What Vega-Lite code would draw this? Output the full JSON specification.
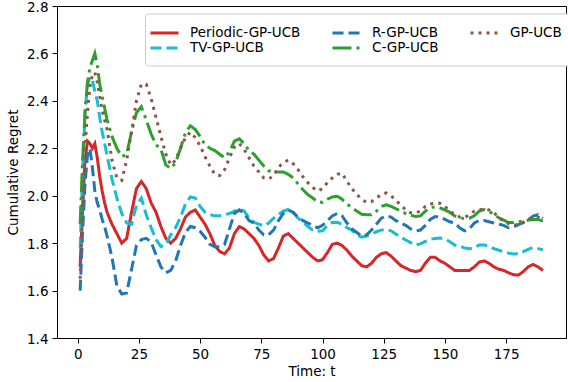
{
"$schema":"https://vega.github.io/schema/vega-lite/v6.json",
"width":509,"height":332,"autosize":{"type":"none"},
"padding":{"left":57,"top":6,"right":2,"bottom":44},
"background":"white",
"data":{"values":[
{"s":"Periodic-GP-UCB","t":1,"v":1.70},{"s":"Periodic-GP-UCB","t":2,"v":1.95},{"s":"Periodic-GP-UCB","t":3,"v":2.15},{"s":"Periodic-GP-UCB","t":4,"v":2.23},{"s":"Periodic-GP-UCB","t":5,"v":2.22},{"s":"Periodic-GP-UCB","t":6,"v":2.20},{"s":"Periodic-GP-UCB","t":7,"v":2.22},{"s":"Periodic-GP-UCB","t":8,"v":2.16},{"s":"Periodic-GP-UCB","t":9,"v":2.08},{"s":"Periodic-GP-UCB","t":10,"v":2.02},{"s":"Periodic-GP-UCB","t":11,"v":1.97},{"s":"Periodic-GP-UCB","t":12,"v":1.93},{"s":"Periodic-GP-UCB","t":14,"v":1.88},{"s":"Periodic-GP-UCB","t":16,"v":1.84},{"s":"Periodic-GP-UCB","t":18,"v":1.80},{"s":"Periodic-GP-UCB","t":20,"v":1.82},{"s":"Periodic-GP-UCB","t":22,"v":1.93},{"s":"Periodic-GP-UCB","t":24,"v":2.03},{"s":"Periodic-GP-UCB","t":26,"v":2.06},{"s":"Periodic-GP-UCB","t":28,"v":2.03},{"s":"Periodic-GP-UCB","t":30,"v":1.97},{"s":"Periodic-GP-UCB","t":32,"v":1.93},{"s":"Periodic-GP-UCB","t":34,"v":1.87},{"s":"Periodic-GP-UCB","t":36,"v":1.82},{"s":"Periodic-GP-UCB","t":38,"v":1.80},{"s":"Periodic-GP-UCB","t":40,"v":1.82},{"s":"Periodic-GP-UCB","t":42,"v":1.86},{"s":"Periodic-GP-UCB","t":44,"v":1.91},{"s":"Periodic-GP-UCB","t":46,"v":1.93},{"s":"Periodic-GP-UCB","t":48,"v":1.94},{"s":"Periodic-GP-UCB","t":50,"v":1.91},{"s":"Periodic-GP-UCB","t":52,"v":1.88},{"s":"Periodic-GP-UCB","t":54,"v":1.84},{"s":"Periodic-GP-UCB","t":56,"v":1.79},{"s":"Periodic-GP-UCB","t":58,"v":1.765},{"s":"Periodic-GP-UCB","t":60,"v":1.755},{"s":"Periodic-GP-UCB","t":62,"v":1.78},{"s":"Periodic-GP-UCB","t":64,"v":1.84},{"s":"Periodic-GP-UCB","t":66,"v":1.87},{"s":"Periodic-GP-UCB","t":68,"v":1.86},{"s":"Periodic-GP-UCB","t":70,"v":1.84},{"s":"Periodic-GP-UCB","t":72,"v":1.82},{"s":"Periodic-GP-UCB","t":74,"v":1.79},{"s":"Periodic-GP-UCB","t":76,"v":1.75},{"s":"Periodic-GP-UCB","t":78,"v":1.725},{"s":"Periodic-GP-UCB","t":80,"v":1.735},{"s":"Periodic-GP-UCB","t":82,"v":1.78},{"s":"Periodic-GP-UCB","t":84,"v":1.83},{"s":"Periodic-GP-UCB","t":86,"v":1.84},{"s":"Periodic-GP-UCB","t":88,"v":1.82},{"s":"Periodic-GP-UCB","t":90,"v":1.80},{"s":"Periodic-GP-UCB","t":92,"v":1.78},{"s":"Periodic-GP-UCB","t":94,"v":1.76},{"s":"Periodic-GP-UCB","t":96,"v":1.74},{"s":"Periodic-GP-UCB","t":98,"v":1.725},{"s":"Periodic-GP-UCB","t":100,"v":1.73},{"s":"Periodic-GP-UCB","t":102,"v":1.76},{"s":"Periodic-GP-UCB","t":104,"v":1.795},{"s":"Periodic-GP-UCB","t":106,"v":1.80},{"s":"Periodic-GP-UCB","t":108,"v":1.79},{"s":"Periodic-GP-UCB","t":110,"v":1.77},{"s":"Periodic-GP-UCB","t":112,"v":1.745},{"s":"Periodic-GP-UCB","t":114,"v":1.725},{"s":"Periodic-GP-UCB","t":116,"v":1.705},{"s":"Periodic-GP-UCB","t":118,"v":1.70},{"s":"Periodic-GP-UCB","t":120,"v":1.715},{"s":"Periodic-GP-UCB","t":122,"v":1.74},{"s":"Periodic-GP-UCB","t":124,"v":1.755},{"s":"Periodic-GP-UCB","t":126,"v":1.76},{"s":"Periodic-GP-UCB","t":128,"v":1.745},{"s":"Periodic-GP-UCB","t":130,"v":1.725},{"s":"Periodic-GP-UCB","t":132,"v":1.705},{"s":"Periodic-GP-UCB","t":134,"v":1.695},{"s":"Periodic-GP-UCB","t":136,"v":1.685},{"s":"Periodic-GP-UCB","t":138,"v":1.68},{"s":"Periodic-GP-UCB","t":140,"v":1.685},{"s":"Periodic-GP-UCB","t":142,"v":1.715},{"s":"Periodic-GP-UCB","t":144,"v":1.74},{"s":"Periodic-GP-UCB","t":146,"v":1.74},{"s":"Periodic-GP-UCB","t":148,"v":1.725},{"s":"Periodic-GP-UCB","t":150,"v":1.715},{"s":"Periodic-GP-UCB","t":152,"v":1.70},{"s":"Periodic-GP-UCB","t":154,"v":1.685},{"s":"Periodic-GP-UCB","t":156,"v":1.685},{"s":"Periodic-GP-UCB","t":158,"v":1.685},{"s":"Periodic-GP-UCB","t":160,"v":1.685},{"s":"Periodic-GP-UCB","t":162,"v":1.70},{"s":"Periodic-GP-UCB","t":164,"v":1.72},{"s":"Periodic-GP-UCB","t":166,"v":1.725},{"s":"Periodic-GP-UCB","t":168,"v":1.715},{"s":"Periodic-GP-UCB","t":170,"v":1.70},{"s":"Periodic-GP-UCB","t":172,"v":1.69},{"s":"Periodic-GP-UCB","t":174,"v":1.685},{"s":"Periodic-GP-UCB","t":176,"v":1.675},{"s":"Periodic-GP-UCB","t":178,"v":1.667},{"s":"Periodic-GP-UCB","t":180,"v":1.665},{"s":"Periodic-GP-UCB","t":182,"v":1.68},{"s":"Periodic-GP-UCB","t":184,"v":1.70},{"s":"Periodic-GP-UCB","t":186,"v":1.71},{"s":"Periodic-GP-UCB","t":188,"v":1.70},{"s":"Periodic-GP-UCB","t":190,"v":1.685},
{"s":"TV-GP-UCB","t":1,"v":1.78},{"s":"TV-GP-UCB","t":2,"v":2.10},{"s":"TV-GP-UCB","t":3,"v":2.35},{"s":"TV-GP-UCB","t":4,"v":2.47},{"s":"TV-GP-UCB","t":5,"v":2.50},{"s":"TV-GP-UCB","t":6,"v":2.49},{"s":"TV-GP-UCB","t":7,"v":2.44},{"s":"TV-GP-UCB","t":8,"v":2.40},{"s":"TV-GP-UCB","t":9,"v":2.33},{"s":"TV-GP-UCB","t":10,"v":2.27},{"s":"TV-GP-UCB","t":11,"v":2.22},{"s":"TV-GP-UCB","t":12,"v":2.17},{"s":"TV-GP-UCB","t":14,"v":2.07},{"s":"TV-GP-UCB","t":16,"v":1.99},{"s":"TV-GP-UCB","t":18,"v":1.925},{"s":"TV-GP-UCB","t":20,"v":1.885},{"s":"TV-GP-UCB","t":22,"v":1.88},{"s":"TV-GP-UCB","t":24,"v":1.96},{"s":"TV-GP-UCB","t":26,"v":1.99},{"s":"TV-GP-UCB","t":28,"v":1.92},{"s":"TV-GP-UCB","t":30,"v":1.865},{"s":"TV-GP-UCB","t":32,"v":1.815},{"s":"TV-GP-UCB","t":34,"v":1.785},{"s":"TV-GP-UCB","t":36,"v":1.795},{"s":"TV-GP-UCB","t":38,"v":1.835},{"s":"TV-GP-UCB","t":40,"v":1.865},{"s":"TV-GP-UCB","t":42,"v":1.91},{"s":"TV-GP-UCB","t":44,"v":1.965},{"s":"TV-GP-UCB","t":46,"v":1.995},{"s":"TV-GP-UCB","t":48,"v":1.99},{"s":"TV-GP-UCB","t":50,"v":1.955},{"s":"TV-GP-UCB","t":52,"v":1.93},{"s":"TV-GP-UCB","t":54,"v":1.92},{"s":"TV-GP-UCB","t":56,"v":1.915},{"s":"TV-GP-UCB","t":58,"v":1.915},{"s":"TV-GP-UCB","t":60,"v":1.92},{"s":"TV-GP-UCB","t":62,"v":1.925},{"s":"TV-GP-UCB","t":64,"v":1.935},{"s":"TV-GP-UCB","t":66,"v":1.942},{"s":"TV-GP-UCB","t":68,"v":1.935},{"s":"TV-GP-UCB","t":70,"v":1.905},{"s":"TV-GP-UCB","t":72,"v":1.888},{"s":"TV-GP-UCB","t":74,"v":1.88},{"s":"TV-GP-UCB","t":76,"v":1.873},{"s":"TV-GP-UCB","t":78,"v":1.885},{"s":"TV-GP-UCB","t":80,"v":1.905},{"s":"TV-GP-UCB","t":82,"v":1.92},{"s":"TV-GP-UCB","t":84,"v":1.935},{"s":"TV-GP-UCB","t":86,"v":1.942},{"s":"TV-GP-UCB","t":88,"v":1.93},{"s":"TV-GP-UCB","t":90,"v":1.905},{"s":"TV-GP-UCB","t":92,"v":1.89},{"s":"TV-GP-UCB","t":94,"v":1.87},{"s":"TV-GP-UCB","t":96,"v":1.855},{"s":"TV-GP-UCB","t":98,"v":1.85},{"s":"TV-GP-UCB","t":100,"v":1.852},{"s":"TV-GP-UCB","t":102,"v":1.875},{"s":"TV-GP-UCB","t":104,"v":1.887},{"s":"TV-GP-UCB","t":106,"v":1.888},{"s":"TV-GP-UCB","t":108,"v":1.88},{"s":"TV-GP-UCB","t":110,"v":1.865},{"s":"TV-GP-UCB","t":112,"v":1.855},{"s":"TV-GP-UCB","t":114,"v":1.835},{"s":"TV-GP-UCB","t":116,"v":1.825},{"s":"TV-GP-UCB","t":118,"v":1.83},{"s":"TV-GP-UCB","t":120,"v":1.838},{"s":"TV-GP-UCB","t":122,"v":1.848},{"s":"TV-GP-UCB","t":124,"v":1.855},{"s":"TV-GP-UCB","t":126,"v":1.858},{"s":"TV-GP-UCB","t":128,"v":1.852},{"s":"TV-GP-UCB","t":130,"v":1.838},{"s":"TV-GP-UCB","t":132,"v":1.826},{"s":"TV-GP-UCB","t":134,"v":1.813},{"s":"TV-GP-UCB","t":136,"v":1.802},{"s":"TV-GP-UCB","t":138,"v":1.792},{"s":"TV-GP-UCB","t":140,"v":1.797},{"s":"TV-GP-UCB","t":142,"v":1.807},{"s":"TV-GP-UCB","t":144,"v":1.816},{"s":"TV-GP-UCB","t":146,"v":1.82},{"s":"TV-GP-UCB","t":148,"v":1.822},{"s":"TV-GP-UCB","t":150,"v":1.818},{"s":"TV-GP-UCB","t":152,"v":1.806},{"s":"TV-GP-UCB","t":154,"v":1.792},{"s":"TV-GP-UCB","t":156,"v":1.787},{"s":"TV-GP-UCB","t":158,"v":1.78},{"s":"TV-GP-UCB","t":160,"v":1.776},{"s":"TV-GP-UCB","t":162,"v":1.782},{"s":"TV-GP-UCB","t":164,"v":1.792},{"s":"TV-GP-UCB","t":166,"v":1.792},{"s":"TV-GP-UCB","t":168,"v":1.787},{"s":"TV-GP-UCB","t":170,"v":1.777},{"s":"TV-GP-UCB","t":172,"v":1.77},{"s":"TV-GP-UCB","t":174,"v":1.764},{"s":"TV-GP-UCB","t":176,"v":1.758},{"s":"TV-GP-UCB","t":178,"v":1.754},{"s":"TV-GP-UCB","t":180,"v":1.755},{"s":"TV-GP-UCB","t":182,"v":1.764},{"s":"TV-GP-UCB","t":184,"v":1.774},{"s":"TV-GP-UCB","t":186,"v":1.782},{"s":"TV-GP-UCB","t":188,"v":1.777},{"s":"TV-GP-UCB","t":190,"v":1.772},
{"s":"R-GP-UCB","t":1,"v":1.60},{"s":"R-GP-UCB","t":2,"v":1.85},{"s":"R-GP-UCB","t":3,"v":2.05},{"s":"R-GP-UCB","t":4,"v":2.17},{"s":"R-GP-UCB","t":5,"v":2.20},{"s":"R-GP-UCB","t":6,"v":2.12},{"s":"R-GP-UCB","t":7,"v":2.02},{"s":"R-GP-UCB","t":8,"v":1.97},{"s":"R-GP-UCB","t":9,"v":1.94},{"s":"R-GP-UCB","t":10,"v":1.90},{"s":"R-GP-UCB","t":11,"v":1.87},{"s":"R-GP-UCB","t":12,"v":1.83},{"s":"R-GP-UCB","t":14,"v":1.74},{"s":"R-GP-UCB","t":16,"v":1.62},{"s":"R-GP-UCB","t":18,"v":1.585},{"s":"R-GP-UCB","t":20,"v":1.59},{"s":"R-GP-UCB","t":22,"v":1.69},{"s":"R-GP-UCB","t":24,"v":1.79},{"s":"R-GP-UCB","t":26,"v":1.815},{"s":"R-GP-UCB","t":28,"v":1.82},{"s":"R-GP-UCB","t":30,"v":1.805},{"s":"R-GP-UCB","t":32,"v":1.75},{"s":"R-GP-UCB","t":34,"v":1.70},{"s":"R-GP-UCB","t":36,"v":1.675},{"s":"R-GP-UCB","t":38,"v":1.685},{"s":"R-GP-UCB","t":40,"v":1.725},{"s":"R-GP-UCB","t":42,"v":1.79},{"s":"R-GP-UCB","t":44,"v":1.845},{"s":"R-GP-UCB","t":46,"v":1.87},{"s":"R-GP-UCB","t":48,"v":1.865},{"s":"R-GP-UCB","t":50,"v":1.85},{"s":"R-GP-UCB","t":52,"v":1.825},{"s":"R-GP-UCB","t":54,"v":1.795},{"s":"R-GP-UCB","t":56,"v":1.785},{"s":"R-GP-UCB","t":58,"v":1.785},{"s":"R-GP-UCB","t":60,"v":1.795},{"s":"R-GP-UCB","t":62,"v":1.86},{"s":"R-GP-UCB","t":64,"v":1.925},{"s":"R-GP-UCB","t":66,"v":1.94},{"s":"R-GP-UCB","t":68,"v":1.925},{"s":"R-GP-UCB","t":70,"v":1.895},{"s":"R-GP-UCB","t":72,"v":1.885},{"s":"R-GP-UCB","t":74,"v":1.855},{"s":"R-GP-UCB","t":76,"v":1.835},{"s":"R-GP-UCB","t":78,"v":1.835},{"s":"R-GP-UCB","t":80,"v":1.855},{"s":"R-GP-UCB","t":82,"v":1.895},{"s":"R-GP-UCB","t":84,"v":1.925},{"s":"R-GP-UCB","t":86,"v":1.94},{"s":"R-GP-UCB","t":88,"v":1.93},{"s":"R-GP-UCB","t":90,"v":1.91},{"s":"R-GP-UCB","t":92,"v":1.895},{"s":"R-GP-UCB","t":94,"v":1.885},{"s":"R-GP-UCB","t":96,"v":1.875},{"s":"R-GP-UCB","t":98,"v":1.865},{"s":"R-GP-UCB","t":100,"v":1.875},{"s":"R-GP-UCB","t":102,"v":1.895},{"s":"R-GP-UCB","t":104,"v":1.915},{"s":"R-GP-UCB","t":106,"v":1.925},{"s":"R-GP-UCB","t":108,"v":1.915},{"s":"R-GP-UCB","t":110,"v":1.885},{"s":"R-GP-UCB","t":112,"v":1.86},{"s":"R-GP-UCB","t":114,"v":1.845},{"s":"R-GP-UCB","t":116,"v":1.83},{"s":"R-GP-UCB","t":118,"v":1.835},{"s":"R-GP-UCB","t":120,"v":1.855},{"s":"R-GP-UCB","t":122,"v":1.88},{"s":"R-GP-UCB","t":124,"v":1.905},{"s":"R-GP-UCB","t":126,"v":1.915},{"s":"R-GP-UCB","t":128,"v":1.91},{"s":"R-GP-UCB","t":130,"v":1.895},{"s":"R-GP-UCB","t":132,"v":1.885},{"s":"R-GP-UCB","t":134,"v":1.875},{"s":"R-GP-UCB","t":136,"v":1.86},{"s":"R-GP-UCB","t":138,"v":1.852},{"s":"R-GP-UCB","t":140,"v":1.855},{"s":"R-GP-UCB","t":142,"v":1.875},{"s":"R-GP-UCB","t":144,"v":1.90},{"s":"R-GP-UCB","t":146,"v":1.912},{"s":"R-GP-UCB","t":148,"v":1.91},{"s":"R-GP-UCB","t":150,"v":1.90},{"s":"R-GP-UCB","t":152,"v":1.89},{"s":"R-GP-UCB","t":154,"v":1.885},{"s":"R-GP-UCB","t":156,"v":1.865},{"s":"R-GP-UCB","t":158,"v":1.852},{"s":"R-GP-UCB","t":160,"v":1.86},{"s":"R-GP-UCB","t":162,"v":1.885},{"s":"R-GP-UCB","t":164,"v":1.895},{"s":"R-GP-UCB","t":166,"v":1.895},{"s":"R-GP-UCB","t":168,"v":1.89},{"s":"R-GP-UCB","t":170,"v":1.885},{"s":"R-GP-UCB","t":172,"v":1.88},{"s":"R-GP-UCB","t":174,"v":1.875},{"s":"R-GP-UCB","t":176,"v":1.865},{"s":"R-GP-UCB","t":178,"v":1.868},{"s":"R-GP-UCB","t":180,"v":1.878},{"s":"R-GP-UCB","t":182,"v":1.886},{"s":"R-GP-UCB","t":184,"v":1.898},{"s":"R-GP-UCB","t":186,"v":1.914},{"s":"R-GP-UCB","t":188,"v":1.92},{"s":"R-GP-UCB","t":190,"v":1.905},
{"s":"C-GP-UCB","t":1,"v":1.88},{"s":"C-GP-UCB","t":2,"v":2.15},{"s":"C-GP-UCB","t":3,"v":2.35},{"s":"C-GP-UCB","t":4,"v":2.48},{"s":"C-GP-UCB","t":5,"v":2.54},{"s":"C-GP-UCB","t":6,"v":2.57},{"s":"C-GP-UCB","t":7,"v":2.60},{"s":"C-GP-UCB","t":8,"v":2.55},{"s":"C-GP-UCB","t":9,"v":2.47},{"s":"C-GP-UCB","t":10,"v":2.42},{"s":"C-GP-UCB","t":11,"v":2.37},{"s":"C-GP-UCB","t":12,"v":2.32},{"s":"C-GP-UCB","t":14,"v":2.25},{"s":"C-GP-UCB","t":16,"v":2.20},{"s":"C-GP-UCB","t":18,"v":2.165},{"s":"C-GP-UCB","t":20,"v":2.175},{"s":"C-GP-UCB","t":22,"v":2.27},{"s":"C-GP-UCB","t":24,"v":2.35},{"s":"C-GP-UCB","t":26,"v":2.375},{"s":"C-GP-UCB","t":28,"v":2.32},{"s":"C-GP-UCB","t":30,"v":2.26},{"s":"C-GP-UCB","t":32,"v":2.215},{"s":"C-GP-UCB","t":34,"v":2.195},{"s":"C-GP-UCB","t":36,"v":2.13},{"s":"C-GP-UCB","t":38,"v":2.115},{"s":"C-GP-UCB","t":40,"v":2.14},{"s":"C-GP-UCB","t":42,"v":2.20},{"s":"C-GP-UCB","t":44,"v":2.265},{"s":"C-GP-UCB","t":46,"v":2.295},{"s":"C-GP-UCB","t":48,"v":2.28},{"s":"C-GP-UCB","t":50,"v":2.25},{"s":"C-GP-UCB","t":52,"v":2.215},{"s":"C-GP-UCB","t":54,"v":2.20},{"s":"C-GP-UCB","t":56,"v":2.19},{"s":"C-GP-UCB","t":58,"v":2.175},{"s":"C-GP-UCB","t":60,"v":2.16},{"s":"C-GP-UCB","t":62,"v":2.185},{"s":"C-GP-UCB","t":64,"v":2.23},{"s":"C-GP-UCB","t":66,"v":2.24},{"s":"C-GP-UCB","t":68,"v":2.22},{"s":"C-GP-UCB","t":70,"v":2.19},{"s":"C-GP-UCB","t":72,"v":2.175},{"s":"C-GP-UCB","t":74,"v":2.15},{"s":"C-GP-UCB","t":76,"v":2.125},{"s":"C-GP-UCB","t":78,"v":2.105},{"s":"C-GP-UCB","t":80,"v":2.10},{"s":"C-GP-UCB","t":82,"v":2.10},{"s":"C-GP-UCB","t":84,"v":2.10},{"s":"C-GP-UCB","t":86,"v":2.09},{"s":"C-GP-UCB","t":88,"v":2.075},{"s":"C-GP-UCB","t":90,"v":2.05},{"s":"C-GP-UCB","t":92,"v":2.025},{"s":"C-GP-UCB","t":94,"v":2.005},{"s":"C-GP-UCB","t":96,"v":1.99},{"s":"C-GP-UCB","t":98,"v":1.975},{"s":"C-GP-UCB","t":100,"v":1.972},{"s":"C-GP-UCB","t":102,"v":1.985},{"s":"C-GP-UCB","t":104,"v":1.995},{"s":"C-GP-UCB","t":106,"v":1.998},{"s":"C-GP-UCB","t":108,"v":1.985},{"s":"C-GP-UCB","t":110,"v":1.965},{"s":"C-GP-UCB","t":112,"v":1.95},{"s":"C-GP-UCB","t":114,"v":1.935},{"s":"C-GP-UCB","t":116,"v":1.922},{"s":"C-GP-UCB","t":118,"v":1.92},{"s":"C-GP-UCB","t":120,"v":1.92},{"s":"C-GP-UCB","t":122,"v":1.935},{"s":"C-GP-UCB","t":124,"v":1.955},{"s":"C-GP-UCB","t":126,"v":1.962},{"s":"C-GP-UCB","t":128,"v":1.955},{"s":"C-GP-UCB","t":130,"v":1.945},{"s":"C-GP-UCB","t":132,"v":1.935},{"s":"C-GP-UCB","t":134,"v":1.925},{"s":"C-GP-UCB","t":136,"v":1.918},{"s":"C-GP-UCB","t":138,"v":1.912},{"s":"C-GP-UCB","t":140,"v":1.915},{"s":"C-GP-UCB","t":142,"v":1.935},{"s":"C-GP-UCB","t":144,"v":1.95},{"s":"C-GP-UCB","t":146,"v":1.953},{"s":"C-GP-UCB","t":148,"v":1.948},{"s":"C-GP-UCB","t":150,"v":1.94},{"s":"C-GP-UCB","t":152,"v":1.93},{"s":"C-GP-UCB","t":154,"v":1.915},{"s":"C-GP-UCB","t":156,"v":1.908},{"s":"C-GP-UCB","t":158,"v":1.903},{"s":"C-GP-UCB","t":160,"v":1.905},{"s":"C-GP-UCB","t":162,"v":1.915},{"s":"C-GP-UCB","t":164,"v":1.935},{"s":"C-GP-UCB","t":166,"v":1.942},{"s":"C-GP-UCB","t":168,"v":1.935},{"s":"C-GP-UCB","t":170,"v":1.92},{"s":"C-GP-UCB","t":172,"v":1.907},{"s":"C-GP-UCB","t":174,"v":1.897},{"s":"C-GP-UCB","t":176,"v":1.887},{"s":"C-GP-UCB","t":178,"v":1.887},{"s":"C-GP-UCB","t":180,"v":1.89},{"s":"C-GP-UCB","t":182,"v":1.893},{"s":"C-GP-UCB","t":184,"v":1.897},{"s":"C-GP-UCB","t":186,"v":1.90},{"s":"C-GP-UCB","t":188,"v":1.90},{"s":"C-GP-UCB","t":190,"v":1.893},
{"s":"GP-UCB","t":1,"v":1.65},{"s":"GP-UCB","t":2,"v":1.95},{"s":"GP-UCB","t":3,"v":2.20},{"s":"GP-UCB","t":4,"v":2.35},{"s":"GP-UCB","t":5,"v":2.46},{"s":"GP-UCB","t":6,"v":2.51},{"s":"GP-UCB","t":7,"v":2.52},{"s":"GP-UCB","t":8,"v":2.48},{"s":"GP-UCB","t":9,"v":2.42},{"s":"GP-UCB","t":10,"v":2.36},{"s":"GP-UCB","t":11,"v":2.32},{"s":"GP-UCB","t":12,"v":2.28},{"s":"GP-UCB","t":14,"v":2.15},{"s":"GP-UCB","t":16,"v":2.075},{"s":"GP-UCB","t":18,"v":2.065},{"s":"GP-UCB","t":20,"v":2.15},{"s":"GP-UCB","t":22,"v":2.27},{"s":"GP-UCB","t":24,"v":2.40},{"s":"GP-UCB","t":26,"v":2.47},{"s":"GP-UCB","t":28,"v":2.47},{"s":"GP-UCB","t":30,"v":2.41},{"s":"GP-UCB","t":32,"v":2.33},{"s":"GP-UCB","t":34,"v":2.25},{"s":"GP-UCB","t":36,"v":2.175},{"s":"GP-UCB","t":38,"v":2.13},{"s":"GP-UCB","t":40,"v":2.15},{"s":"GP-UCB","t":42,"v":2.20},{"s":"GP-UCB","t":44,"v":2.245},{"s":"GP-UCB","t":46,"v":2.268},{"s":"GP-UCB","t":48,"v":2.245},{"s":"GP-UCB","t":50,"v":2.21},{"s":"GP-UCB","t":52,"v":2.165},{"s":"GP-UCB","t":54,"v":2.125},{"s":"GP-UCB","t":56,"v":2.09},{"s":"GP-UCB","t":58,"v":2.085},{"s":"GP-UCB","t":60,"v":2.11},{"s":"GP-UCB","t":62,"v":2.16},{"s":"GP-UCB","t":64,"v":2.205},{"s":"GP-UCB","t":66,"v":2.22},{"s":"GP-UCB","t":68,"v":2.195},{"s":"GP-UCB","t":70,"v":2.16},{"s":"GP-UCB","t":72,"v":2.125},{"s":"GP-UCB","t":74,"v":2.10},{"s":"GP-UCB","t":76,"v":2.075},{"s":"GP-UCB","t":78,"v":2.07},{"s":"GP-UCB","t":80,"v":2.085},{"s":"GP-UCB","t":82,"v":2.12},{"s":"GP-UCB","t":84,"v":2.14},{"s":"GP-UCB","t":86,"v":2.15},{"s":"GP-UCB","t":88,"v":2.135},{"s":"GP-UCB","t":90,"v":2.11},{"s":"GP-UCB","t":92,"v":2.08},{"s":"GP-UCB","t":94,"v":2.055},{"s":"GP-UCB","t":96,"v":2.035},{"s":"GP-UCB","t":98,"v":2.02},{"s":"GP-UCB","t":100,"v":2.03},{"s":"GP-UCB","t":102,"v":2.055},{"s":"GP-UCB","t":104,"v":2.075},{"s":"GP-UCB","t":106,"v":2.09},{"s":"GP-UCB","t":108,"v":2.095},{"s":"GP-UCB","t":110,"v":2.06},{"s":"GP-UCB","t":112,"v":2.03},{"s":"GP-UCB","t":114,"v":2.005},{"s":"GP-UCB","t":116,"v":1.985},{"s":"GP-UCB","t":118,"v":1.972},{"s":"GP-UCB","t":120,"v":1.975},{"s":"GP-UCB","t":122,"v":1.99},{"s":"GP-UCB","t":124,"v":2.005},{"s":"GP-UCB","t":126,"v":2.012},{"s":"GP-UCB","t":128,"v":2.0},{"s":"GP-UCB","t":130,"v":1.98},{"s":"GP-UCB","t":132,"v":1.96},{"s":"GP-UCB","t":134,"v":1.94},{"s":"GP-UCB","t":136,"v":1.928},{"s":"GP-UCB","t":138,"v":1.928},{"s":"GP-UCB","t":140,"v":1.935},{"s":"GP-UCB","t":142,"v":1.955},{"s":"GP-UCB","t":144,"v":1.965},{"s":"GP-UCB","t":146,"v":1.968},{"s":"GP-UCB","t":148,"v":1.968},{"s":"GP-UCB","t":150,"v":1.955},{"s":"GP-UCB","t":152,"v":1.935},{"s":"GP-UCB","t":154,"v":1.92},{"s":"GP-UCB","t":156,"v":1.91},{"s":"GP-UCB","t":158,"v":1.908},{"s":"GP-UCB","t":160,"v":1.92},{"s":"GP-UCB","t":162,"v":1.935},{"s":"GP-UCB","t":164,"v":1.94},{"s":"GP-UCB","t":166,"v":1.945},{"s":"GP-UCB","t":168,"v":1.94},{"s":"GP-UCB","t":170,"v":1.93},{"s":"GP-UCB","t":172,"v":1.905},{"s":"GP-UCB","t":174,"v":1.895},{"s":"GP-UCB","t":176,"v":1.882},{"s":"GP-UCB","t":178,"v":1.875},{"s":"GP-UCB","t":180,"v":1.88},{"s":"GP-UCB","t":182,"v":1.888},{"s":"GP-UCB","t":184,"v":1.90},{"s":"GP-UCB","t":186,"v":1.908},{"s":"GP-UCB","t":188,"v":1.91},{"s":"GP-UCB","t":190,"v":1.905}
]},
"mark":{"type":"line","strokeWidth":3,"clip":true},
"encoding":{
"x":{"field":"t","type":"quantitative","scale":{"domain":[-8.45,199.45],"nice":false,"zero":false},"axis":{"title":"Time: t","values":[0,25,50,75,100,125,150,175],"labelFlush":false,"labelOverlap":false,"labelPadding":4}},
"y":{"field":"v","type":"quantitative","scale":{"domain":[1.4,2.8],"nice":false,"zero":false},"axis":{"title":"Cumulative Regret","values":[1.4,1.6,1.8,2.0,2.2,2.4,2.6,2.8],"format":".1f","labelFlush":false,"labelOverlap":false,"labelPadding":4,"labelBaseline":"alphabetic","labelOffset":5,"titlePadding":6}},
"color":{"field":"s","type":"nominal","scale":{"domain":["Periodic-GP-UCB","TV-GP-UCB","R-GP-UCB","C-GP-UCB","GP-UCB"],"range":["#d62728","#17becf","#1f77b4","#2ca02c","#8c564b"]},
 "legend":{"title":null,"orient":"none","legendX":88,"legendY":7.5,"columns":3,"symbolType":"M-2,0H2","symbolSize":196,"symbolStrokeWidth":3,"labelOffset":17,"columnPadding":25,"rowPadding":-3,"padding":11,"strokeColor":"#cccccc","fillColor":"white","cornerRadius":3}},
"strokeDash":{"field":"s","type":"nominal","scale":{"domain":["Periodic-GP-UCB","TV-GP-UCB","R-GP-UCB","C-GP-UCB","GP-UCB"],"range":[[1,0],[11,5],[11,5],[19,5,3,5],[3,5]]},
 "legend":{"title":null,"orient":"none","legendX":88,"legendY":7.5,"columns":3,"symbolType":"M-2,0H2","symbolSize":196,"symbolStrokeWidth":3,"labelOffset":17,"columnPadding":25,"rowPadding":-3,"padding":11,"strokeColor":"#cccccc","fillColor":"white","cornerRadius":3}}
},
"config":{
"view":{"stroke":"black","strokeWidth":1},
"font":"DejaVu Sans",
"axis":{"domainColor":"black","tickColor":"black","labelColor":"black","titleColor":"black","labelFont":"DejaVu Sans","titleFont":"DejaVu Sans","labelFontSize":13.5,"titleFontSize":13.5,"titleFontWeight":"normal","tickSize":5,"grid":false},
"legend":{"labelFont":"DejaVu Sans","labelFontSize":13.5,"labelColor":"black"}
}
}
